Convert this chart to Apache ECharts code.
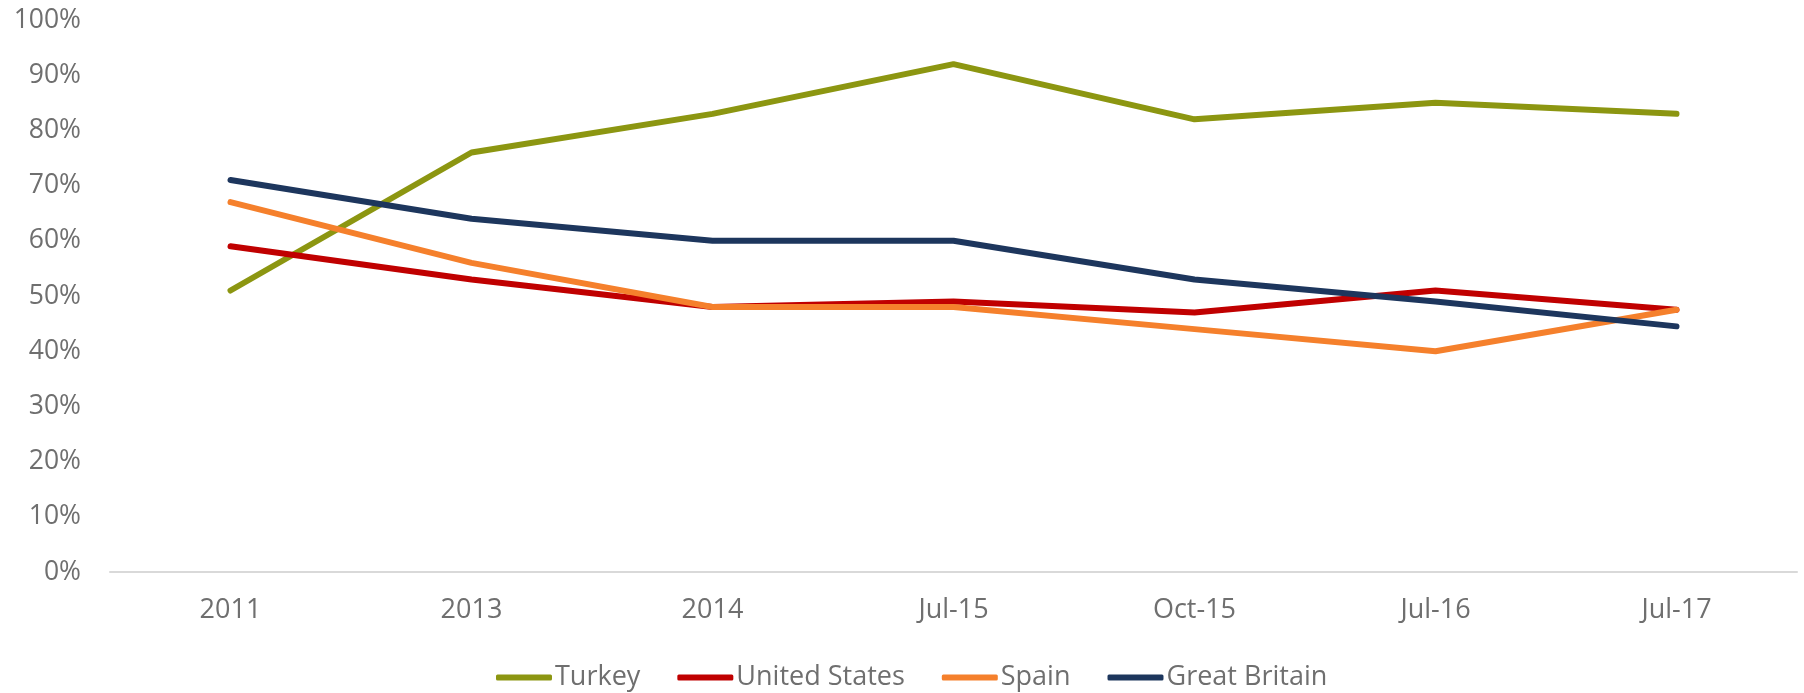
<!DOCTYPE html>
<html>
<head>
<meta charset="utf-8">
<script src="https://cdn.jsdelivr.net/npm/echarts@6/dist/echarts.min.js"></script>
<style>
  html, body { margin: 0; padding: 0; background: #fff; }
  #chart { width: 1804px; height: 693px; }
</style>
</head>
<body>
<div id="chart"></div>
<script>
// categories (x axis)
var periods = ['2011', '2013', '2014', 'Jul-15', 'Oct-15', 'Jul-16', 'Jul-17'];

// values in percent
var turkey = [51, 76, 83, 92, 82, 85, 83];
var unitedStates = [59, 53, 48, 49, 47, 51, 47.5];
var spain = [67, 56, 48, 48, 44, 40, 47.5];
var greatBritain = [71, 64, 60, 60, 53, 49, 44.5];

var labelColor = '#6f6f6f';
var font = 'Open Sans';

function lineSeries(name, data, color) {
  return {
    name: name,
    type: 'line',
    data: data,
    showSymbol: false,
    symbol: 'none',
    lineStyle: {width: 6, color: color, cap: 'round', join: 'round'},
    itemStyle: {color: color},
    emphasis: {disabled: true}
  };
}

var chart = echarts.init(document.getElementById('chart'));
chart.setOption({
  animation: false,
  grid: {left: 110, right: 7, top: 20, bottom: 121, containLabel: false},
  legend: {
    left: 491,
    top: 659,
    icon: 'roundRect',
    itemWidth: 56,
    itemHeight: 6,
    itemGap: 37,
    textStyle: {fontFamily: font, fontSize: 27, color: labelColor, padding: [0, 0, 0, -2]},
    data: ['Turkey', 'United States', 'Spain', 'Great Britain']
  },
  xAxis: {
    type: 'category',
    data: periods,
    boundaryGap: true,
    axisLine: {lineStyle: {color: '#d9d9d9', width: 2}},
    axisTick: {show: false},
    axisLabel: {fontFamily: font, fontSize: 27, color: labelColor, margin: 25}
  },
  yAxis: {
    type: 'value',
    min: 0,
    max: 100,
    interval: 10,
    axisLine: {show: false},
    axisTick: {show: false},
    splitLine: {show: false},
    axisLabel: {
      fontFamily: font, fontSize: 26.5, color: labelColor, margin: 29,
      formatter: function (v) { return v + '%'; }
    }
  },
  series: [
    lineSeries('Turkey', turkey, '#8c9611'),
    lineSeries('United States', unitedStates, '#c00000'),
    lineSeries('Spain', spain, '#f5802c'),
    lineSeries('Great Britain', greatBritain, '#1d365d')
  ]
});
</script>
</body>
</html>
